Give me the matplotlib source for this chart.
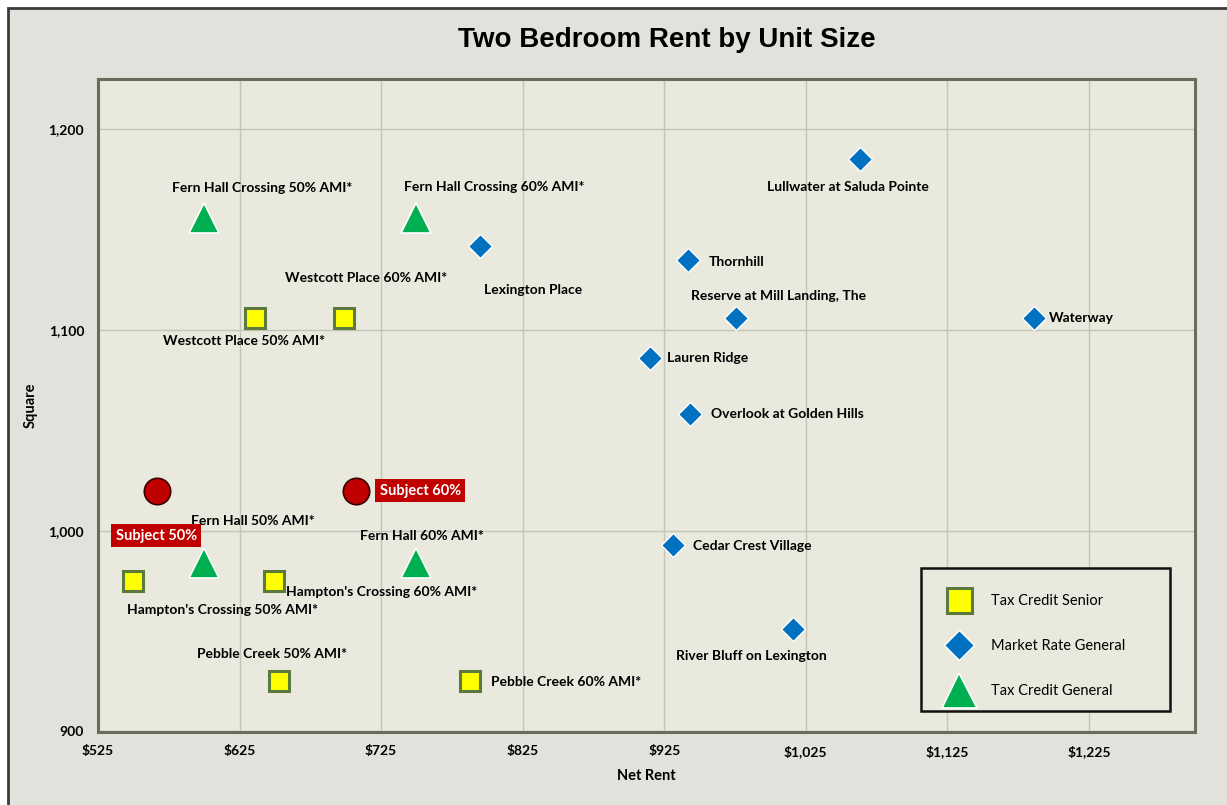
#!/usr/bin/env python3
"""Two bedroom rent by unit size scatter chart."""

import matplotlib

matplotlib.use("Agg")
import matplotlib.pyplot as plt
from matplotlib.patches import Rectangle
from matplotlib.ticker import FuncFormatter, MultipleLocator

# Tax Credit Senior (yellow squares)
senior_names = [
    "Westcott Place 50% AMI*",
    "Westcott Place 60% AMI*",
    "Hampton's Crossing 50% AMI*",
    "Hampton's Crossing 60% AMI*",
    "Pebble Creek 50% AMI*",
    "Pebble Creek 60% AMI*",
]
senior_rent = [636, 699, 550, 649, 653, 788]
senior_size = [1106, 1106, 975, 975, 925, 925]

# Market Rate General (blue diamonds)
market_names = [
    "Lexington Place",
    "Lullwater at Saluda Pointe",
    "Thornhill",
    "Reserve at Mill Landing, The",
    "Waterway",
    "Lauren Ridge",
    "Overlook at Golden Hills",
    "Cedar Crest Village",
    "River Bluff on Lexington",
]
market_rent = [795, 1063, 942, 976, 1186, 915, 943, 931, 1016]
market_size = [1142, 1185, 1135, 1106, 1106, 1086, 1058, 993, 951]

# Tax Credit General (green triangles)
general_names = [
    "Fern Hall Crossing 50% AMI*",
    "Fern Hall Crossing 60% AMI*",
    "Fern Hall 50% AMI*",
    "Fern Hall 60% AMI*",
]
general_rent = [600, 750, 600, 750]
general_size = [1156, 1156, 984, 984]

# Subject property (red circles)
subject_names = ["Subject 50%", "Subject 60%"]
subject_rent = [567, 707]
subject_size = [1020, 1020]

# label offsets in pixels (dx, dy, ha)
LABEL_POS = {
    "Fern Hall Crossing 50% AMI*": (58, 30, "center"),
    "Fern Hall Crossing 60% AMI*": (78, 31, "center"),
    "Lexington Place": (53, -44, "center"),
    "Westcott Place 60% AMI*": (22, 40, "center"),
    "Westcott Place 50% AMI*": (-11, -23, "center"),
    "Lullwater at Saluda Pointe": (-12, -28, "center"),
    "Thornhill": (20, -2, "left"),
    "Reserve at Mill Landing, The": (42, 22, "center"),
    "Waterway": (15, 0, "left"),
    "Lauren Ridge": (17, 0, "left"),
    "Overlook at Golden Hills": (21, 0, "left"),
    "Fern Hall 50% AMI*": (49, 42, "center"),
    "Fern Hall 60% AMI*": (5, 27, "center"),
    "Hampton's Crossing 50% AMI*": (89, -29, "center"),
    "Hampton's Crossing 60% AMI*": (12, -11, "left"),
    "Cedar Crest Village": (20, -1, "left"),
    "River Bluff on Lexington": (-42, -27, "center"),
    "Pebble Creek 50% AMI*": (-7, 27, "center"),
    "Pebble Creek 60% AMI*": (21, -1, "left"),
    "Subject 50%": (-1, -45, "center"),
    "Subject 60%": (24, 0, "left"),
}

FONT = ["Lato", "DejaVu Sans"]
BG_OUT = "#e2e2dc"
BG_PLOT = "#e9e9de"

# pixel layout helpers
AX_L, AX_B, AX_W, AX_H = 98, 731.5, 1097, 652.5


def ax_xy(px, py):
    return (px - AX_L) / AX_W, (AX_B - py) / AX_H


def label(ax, name, x, y, size=10, **kw):
    dx, dy, ha = LABEL_POS[name]
    ax.annotate(
        name,
        (x, y),
        xytext=(dx * 0.72, dy * 0.72),
        textcoords="offset points",
        ha=ha,
        va="center",
        fontsize=size,
        fontweight="bold",
        family=FONT,
        zorder=5,
        **kw,
    )


def main() -> int:
    fig = plt.figure(figsize=(12.27, 8.05), dpi=100, facecolor="white")
    fig.patches.append(
        Rectangle((8 / 1227, -0.05), 1.1, 1 - 8 / 805 + 0.05, transform=fig.transFigure,
                  facecolor=BG_OUT, edgecolor="#3a3a3a", lw=2.0, zorder=-10)
    )
    ax = fig.add_axes([AX_L / 1227, 1 - AX_B / 805, AX_W / 1227, AX_H / 805])
    ax.set_facecolor(BG_PLOT)
    ax.set_xlim(525, 1300)
    ax.set_ylim(900, 1225)
    ax.yaxis.set_major_locator(MultipleLocator(100))
    ax.set_xticks(range(525, 1300, 100))
    ax.xaxis.set_major_formatter(FuncFormatter(lambda v, p: f"${v:,.0f}"))
    ax.yaxis.set_major_formatter(FuncFormatter(lambda v, p: f"{v:,.0f}"))
    ax.grid(True, color="#c4c4b9", lw=1.0, zorder=0)
    ax.set_axisbelow(True)
    for s in ax.spines.values():
        s.set_color("#6c6c5c")
        s.set_linewidth(2.2)
    ax.tick_params(length=0, pad=10, labelsize=10)
    for t in ax.get_xticklabels() + ax.get_yticklabels():
        t.set_fontweight("bold")
        t.set_family(FONT)

    ax.set_xlabel("Net Rent", fontsize=10.5, fontweight="bold", family=FONT, labelpad=8)
    ax.set_ylabel("Square", fontsize=10.5, fontweight="bold", family=FONT)
    ax.yaxis.set_label_coords((38 - AX_L) / AX_W, 0.5)
    fig.text(667 / 1227, 1 - 40 / 805, "Two Bedroom Rent by Unit Size", ha="center", va="center",
             fontsize=20, fontweight="bold", family=["Liberation Sans", "DejaVu Sans"])

    ax.plot(senior_rent, senior_size, ls="none", marker="s", ms=15, mfc="#ffff00",
            mec="#5c7a3c", mew=2.2, zorder=4, label="Tax Credit Senior")
    ax.plot(market_rent, market_size, ls="none", marker="D", ms=12.5, mfc="#0070c0",
            mec="white", mew=1.0, zorder=4, label="Market Rate General")
    ax.plot(general_rent, general_size, ls="none", marker="^", ms=21, mfc="#00b050",
            mec="white", mew=1.2, zorder=4, label="Tax Credit General")
    ax.plot(subject_rent, subject_size, ls="none", marker="o", ms=19, mfc="#c00000",
            mec="#3a0000", mew=1.2, zorder=4)

    for names, xs, ys in [
        (senior_names, senior_rent, senior_size),
        (market_names, market_rent, market_size),
        (general_names, general_rent, general_size),
    ]:
        for n, x, y in zip(names, xs, ys):
            label(ax, n, x, y)
    for n, x, y in zip(subject_names, subject_rent, subject_size):
        label(ax, n, x, y, size=10.5, color="white",
              bbox={"facecolor": "#c00000", "edgecolor": "none", "boxstyle": "square,pad=0.3"})

    # legend box drawn separately, entries placed inside it
    bx0, by0 = ax_xy(921, 711)
    bx1, by1 = ax_xy(1170, 568)
    ax.add_patch(Rectangle((bx0, by0), bx1 - bx0, by1 - by0, transform=ax.transAxes,
                           facecolor=BG_PLOT, edgecolor="#111111", lw=1.8, zorder=6))
    ax.legend(
        loc="upper left",
        bbox_to_anchor=ax_xy(943, 594),
        frameon=False,
        prop={"family": FONT, "size": 10.5},
        borderpad=0,
        labelspacing=2.14,
        handletextpad=1.1,
        borderaxespad=0,
        markerscale=1.2,
        handlelength=2.2,
    ).set_zorder(7)

    fig.savefig("out.png", dpi=100, facecolor=fig.get_facecolor())
    plt.close(fig)
    return 0


if __name__ == "__main__":
    raise SystemExit(main())
